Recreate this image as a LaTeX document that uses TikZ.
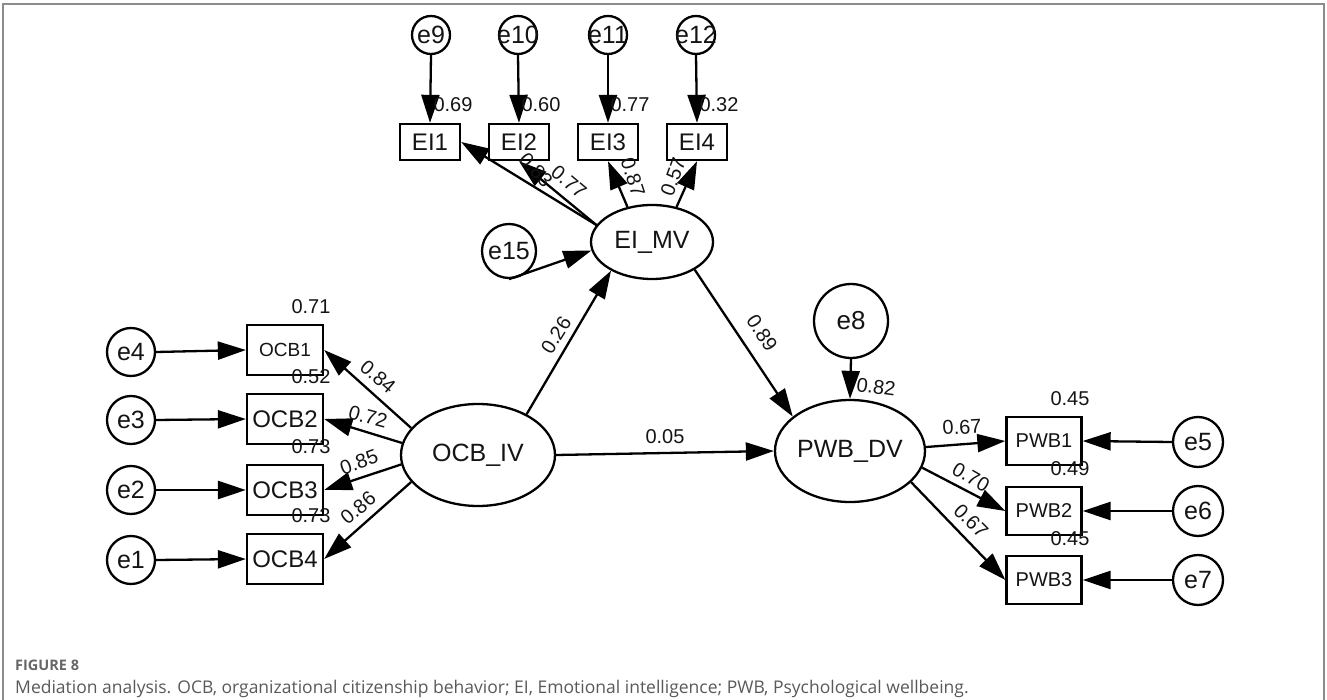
\documentclass[tikz,border=0pt]{standalone}
\usepackage{fontspec}
\setmainfont{Liberation Sans}
\newfontfamily\capfont{Open Sans}
\usetikzlibrary{arrows.meta,shapes.geometric}

\begin{document}
\begin{tikzpicture}[x=1pt,y=-1pt,
  every node/.style={inner sep=0pt, text=black!92},
  lat/.style={ellipse, draw, line width=2.3pt, font=\fontsize{25}{25}\selectfont},
  obs/.style={rectangle, draw, line width=2.3pt},
  ocbbox/.style={obs, minimum width=76pt, minimum height=50pt, font=\fontsize{24}{24}\selectfont},
  pwbbox/.style={obs, minimum width=75pt, minimum height=48pt, font=\fontsize{20}{20}\selectfont},
  eibox/.style={obs, minimum width=60pt, minimum height=36pt, font=\fontsize{24}{24}\selectfont},
  err/.style={circle, draw, line width=2.3pt, font=\fontsize{25}{25}\selectfont},
  link/.style={line width=2.3pt, -{Triangle[length=28pt,width=18pt]}},
  est/.style={font=\fontsize{20}{20}\selectfont},
]
\useasboundingbox (0,0) rectangle (1327,700);

% open frame around the figure
\draw[line width=2pt, black!45] (3,700) -- (3,4) -- (1324,4) -- (1324,700);

% latent variables
\node[lat, minimum width=154pt, minimum height=102pt] (OCB) at (478,455) {OCB\_IV};
\node[lat, minimum width=122pt, minimum height=74pt] (EIMV) at (652,242) {EI\_MV};
\node[lat, minimum width=150pt, minimum height=102pt] (PWB) at (850,451) {PWB\_DV};

% OCB indicators and their errors
\node[ocbbox, font=\fontsize{19}{19}\selectfont] (OCB1) at (285,350) {OCB1};
\node[ocbbox] (OCB2) at (285,419) {OCB2};
\node[ocbbox] (OCB3) at (285,490) {OCB3};
\node[ocbbox] (OCB4) at (285,559) {OCB4};
\node[err, minimum size=48pt] (e4) at (131,352) {\makebox[0pt]{e4}};
\node[err, minimum size=48pt] (e3) at (131,420) {\makebox[0pt]{e3}};
\node[err, minimum size=48pt] (e2) at (131,490) {\makebox[0pt]{e2}};
\node[err, minimum size=48pt] (e1) at (131,560) {\makebox[0pt]{e1}};

% PWB indicators and their errors
\node[pwbbox] (PWB1) at (1044,441) {PWB1};
\node[pwbbox] (PWB2) at (1044,511) {PWB2};
\node[pwbbox] (PWB3) at (1044,580) {PWB3};
\node[err, minimum size=50pt] (e5) at (1198,442) {\makebox[0pt]{e5}};
\node[err, minimum size=50pt] (e6) at (1198,511) {\makebox[0pt]{e6}};
\node[err, minimum size=50pt] (e7) at (1198,580) {\makebox[0pt]{e7}};

% EI indicators and their errors
\node[eibox] (EI1) at (430,142) {EI1};
\node[eibox] (EI2) at (519,142) {EI2};
\node[eibox] (EI3) at (608,142) {EI3};
\node[eibox] (EI4) at (697,142) {EI4};
\node[err, minimum size=38pt] (e9) at (431,35) {\makebox[0pt]{e9}};
\node[err, minimum size=38pt] (e10) at (518,35) {\makebox[0pt]{e10}};
\node[err, minimum size=38pt] (e11) at (608,35) {\makebox[0pt]{e11}};
\node[err, minimum size=38pt] (e12) at (696,35) {\makebox[0pt]{e12}};

% disturbances
\node[err, minimum size=54pt] (e15) at (509,251) {\makebox[0pt]{e15}};
\node[err, minimum size=74pt, font=\fontsize{26}{26}\selectfont] (e8) at (851,321) {\makebox[0pt]{e8}};

% error paths
\draw[link] (e4.east) -- (OCB1.west);
\draw[link] (e3.east) -- (OCB2.west);
\draw[link] (e2.east) -- (OCB3.west);
\draw[link] (e1.east) -- (OCB4.west);
\draw[link] (e5.west) -- (PWB1.east);
\draw[link] (e6.west) -- (PWB2.east);
\draw[link] (e7.west) -- (PWB3.east);
\draw[link] (e9.south) -- (EI1.north);
\draw[link] (e10.south) -- (EI2.north);
\draw[link] (e11.south) -- (EI3.north);
\draw[link] (e12.south) -- (EI4.north);
\draw[link] (e15.south) -- (EIMV.188);
\draw[link] (e8.south) -- (PWB.north);

% loadings
\draw[link] (OCB.158) -- (OCB1.east);
\draw[link] (OCB.171) -- (OCB2.east);
\draw[link] (OCB.187) -- (OCB3.east);
\draw[link] (OCB.202) -- (OCB4.east);
\draw[link] (PWB.3) -- (PWB1.west);
\draw[link] (PWB.347) -- (PWB2.west);
\draw[link] (PWB.333) -- (PWB3.west);
\draw[link] (EIMV.163) -- (EI1.east);
\draw[link] (EIMV.163) -- (EI2.south);
\draw[link] (EIMV.125) -- (EI3.south);
\draw[link] (EIMV.55) -- (EI4.south);

% structural paths
\draw[link] (OCB.40) -- (EIMV.215);
\draw[link] (EIMV.327) -- (PWB.149);
\draw[link] (OCB.0) -- (PWB.180);

% squared multiple correlations
\node[est] (r1) at (311,307) {0.71};
\node[est] (r2) at (311,377) {0.52};
\node[est] (r3) at (311,447) {0.73};
\node[est] (r4) at (311,516) {0.73};
\node[est] (r5) at (1070,399) {0.45};
\node[est] (r6) at (1070,469) {0.49};
\node[est] (r7) at (1070,539) {0.45};
\node[est] (r9) at (453,105) {0.69};
\node[est] (r10) at (541,105) {0.60};
\node[est] (r11) at (630,105) {0.77};
\node[est] (r12) at (719,105) {0.32};
\node[est, rotate=-8] (r8) at (876,387) {0.82};

% path coefficients
\node[est, rotate=-40] (l1) at (378,377) {0.84};
\node[est, rotate=-15] (l2) at (368,417) {0.72};
\node[est, rotate=20] (l3) at (359,462) {0.85};
\node[est, rotate=40] (l4) at (358,508) {0.86};
\node[est, rotate=3] (l5) at (962,427) {0.67};
\node[est, rotate=-30] (l6) at (971,477) {0.70};
\node[est, rotate=-45] (l7) at (971,521) {0.67};
\node[est, rotate=-48] (l8) at (536,170) {0.83};
\node[est, rotate=-40] (l9) at (569,182) {0.77};
\node[est, rotate=-72] (l10) at (633,177) {0.87};
\node[est, rotate=70] (l11) at (673,177) {0.57};
\node[est, rotate=58] (b1) at (556,335) {0.26};
\node[est, rotate=-57] (b2) at (762,333) {0.89};
\node[est] (b3) at (665,437) {0.05};

% caption
\node[anchor=base west, font=\capfont\bfseries\fontsize{14.5}{14.5}\selectfont, text=black!60] (fig) at (15,670) {FIGURE 8};
\node[anchor=base west, font=\capfont\fontsize{17.5}{17.5}\selectfont, text=black!65] (cap) at (15,693) {Mediation analysis. OCB, organizational citizenship behavior; EI, Emotional intelligence; PWB, Psychological wellbeing.};
\end{tikzpicture}
\end{document}
